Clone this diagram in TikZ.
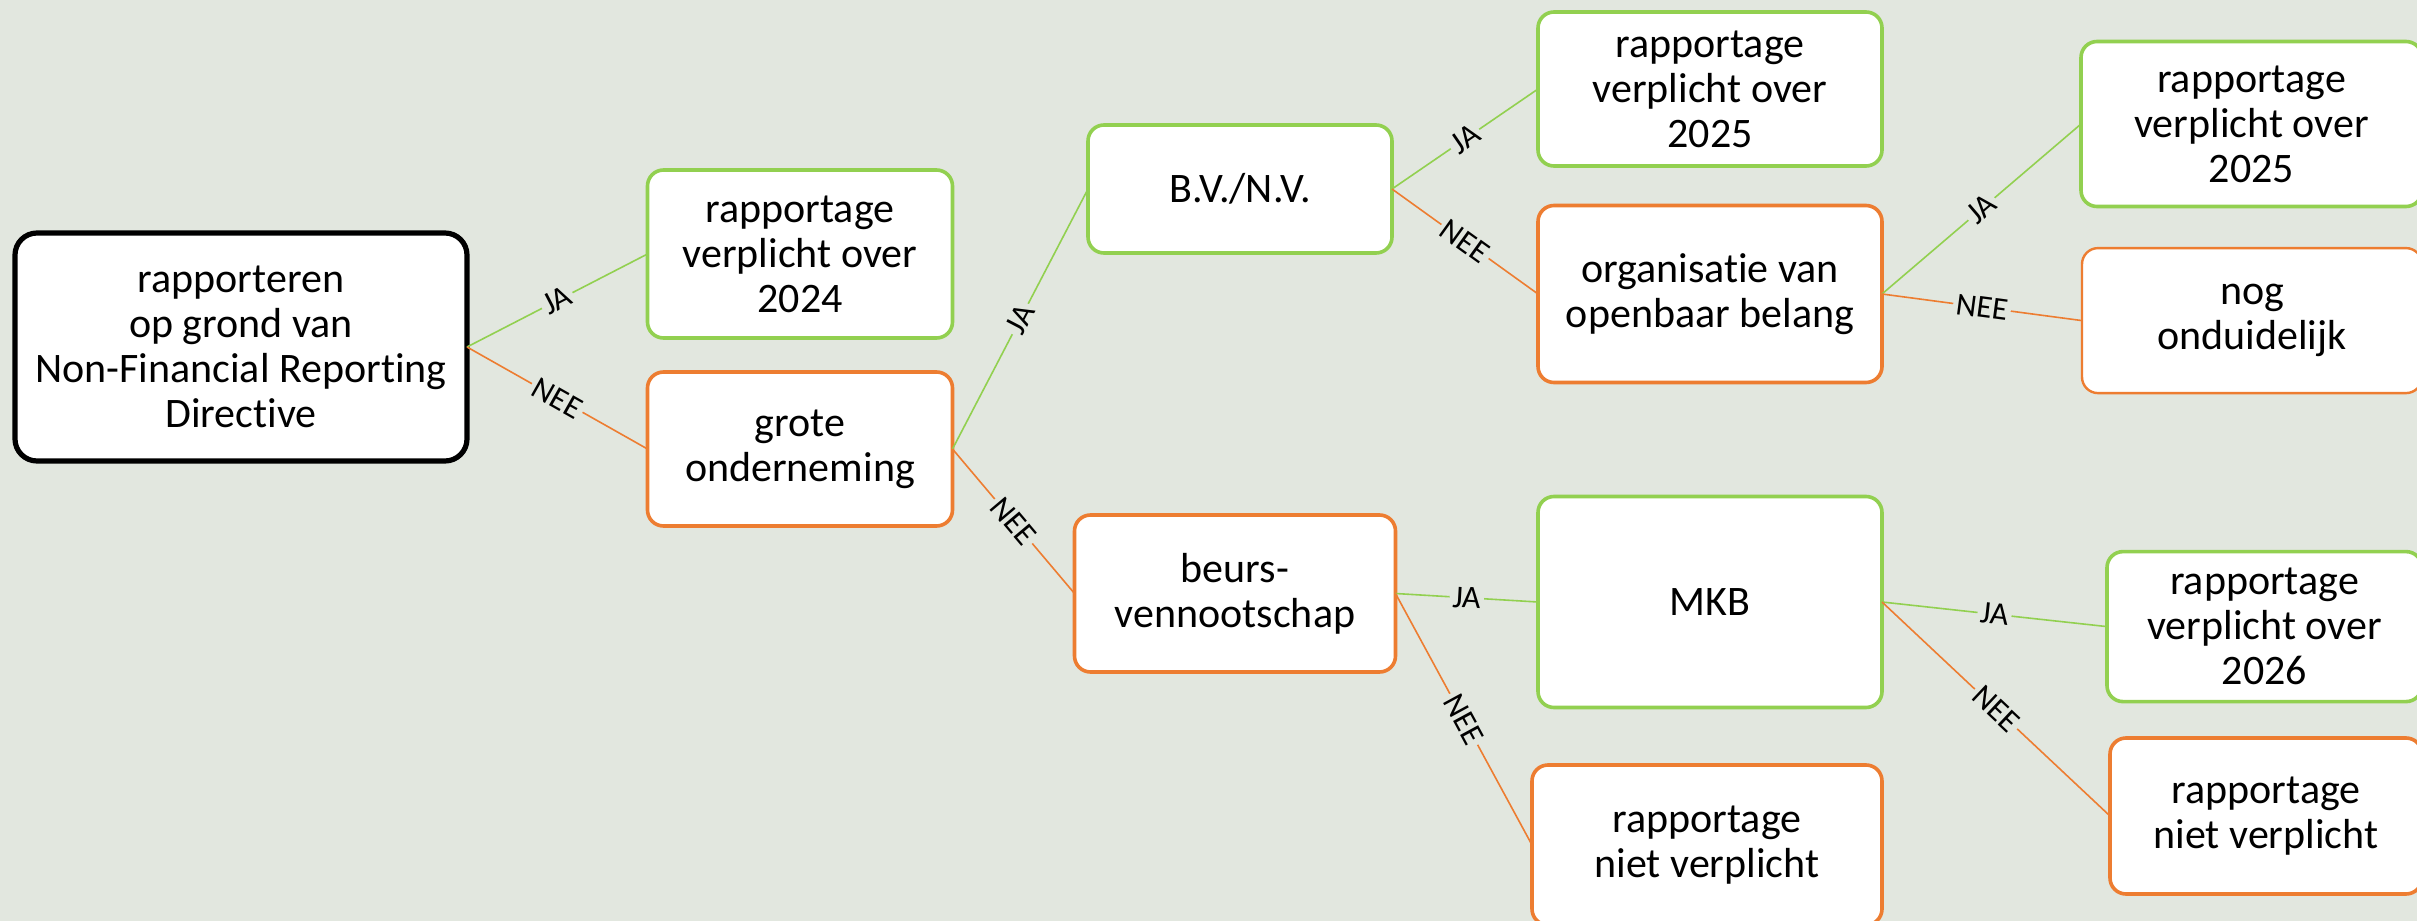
\documentclass[tikz,border=0pt]{standalone}
\usepackage{fontspec}
\setmainfont{Carlito}[RawFeature=-liga]
\definecolor{bg}{RGB}{226,231,223}
\definecolor{jagreen}{RGB}{146,208,80}
\definecolor{neeorange}{RGB}{237,125,49}
\begin{document}
\begin{tikzpicture}[x=0.5pt,y=-0.5pt,
 box/.style={draw, fill=white, rounded corners=8pt, line width=1.8pt, align=center, inner sep=0pt, outer sep=0pt, font=\fontsize{21}{22.5}\selectfont},
 gbox/.style={box, draw=jagreen},
 obox/.style={box, draw=neeorange},
 ja/.style={draw=jagreen, line width=0.8pt},
 nee/.style={draw=neeorange, line width=0.8pt},
 lbl/.style={midway, sloped, fill=bg, inner sep=1.5pt, text=black, font=\fontsize{16}{17}\selectfont}]
\fill[bg] (0,0) rectangle (2417,921);
\useasboundingbox (0,0) rectangle (2417,921);
\begin{scope}
\clip (0,0) rectangle (2417,921);
\node[box, draw=black, line width=2.6pt, rounded corners=11pt, minimum width=226pt, minimum height=114pt] (root) at (241,347) {rapporteren\\op grond van\\Non-Financial Reporting\\Directive};
\node[gbox, minimum width=152.5pt, minimum height=84pt] (r2024) at (800,254) {rapportage\\verplicht over\\2024};
\node[obox, minimum width=152.5pt, minimum height=77pt] (grote) at (800,449) {grote\\onderneming};
\node[gbox, minimum width=152pt, minimum height=64pt] (bvnv) at (1240,189) {B.V./N.V.};
\node[gbox, minimum width=172pt, minimum height=77pt] (r2025a) at (1710,89) {rapportage\\verplicht over\\2025};
\node[obox, minimum width=172pt, minimum height=88.5pt] (org) at (1710,294) {organisatie van\\openbaar belang};
\node[gbox, minimum width=170.5pt, minimum height=82.5pt] (r2025b) at (2251.5,124) {rapportage\\verplicht over\\2025};
\node[obox, line width=1.2pt, minimum width=170pt, minimum height=72.5pt] (nog) at (2252,320.6) {nog\\onduidelijk};
\node[obox, minimum width=160.5pt, minimum height=78.5pt] (beurs) at (1235,593.5) {beurs-\\vennootschap};
\node[gbox, minimum width=172pt, minimum height=105.5pt] (mkb) at (1710,602) {MKB};
\node[gbox, minimum width=157.5pt, minimum height=75pt] (r2026) at (2264.5,626.6) {rapportage\\verplicht over\\2026};
\node[obox, minimum width=175pt, minimum height=80pt] (niet1) at (1707,845) {rapportage\\niet verplicht};
\node[obox, minimum width=156pt, minimum height=78pt] (niet2) at (2266,816) {rapportage\\niet verplicht};

\draw[ja] (root.east) -- node[lbl]{JA} (r2024.west);
\draw[nee] (root.east) -- node[lbl]{NEE} (grote.west);
\draw[ja] (grote.east) -- node[lbl]{JA} (bvnv.west);
\draw[nee] (grote.east) -- node[lbl]{NEE} (beurs.west);
\draw[ja] (bvnv.east) -- node[lbl]{JA} (r2025a.west);
\draw[nee] (bvnv.east) -- node[lbl]{NEE} (org.west);
\draw[ja] (org.east) -- node[lbl]{JA} (r2025b.west);
\draw[nee] (org.east) -- node[lbl]{NEE} (nog.west);
\draw[ja] (beurs.east) -- node[lbl]{JA} (mkb.west);
\draw[nee] (beurs.east) -- node[lbl]{NEE} (niet1.west);
\draw[ja] (mkb.east) -- node[lbl]{JA} (r2026.west);
\draw[nee] (mkb.east) -- node[lbl]{NEE} (niet2.west);
\end{scope}
\end{tikzpicture}
\end{document}
